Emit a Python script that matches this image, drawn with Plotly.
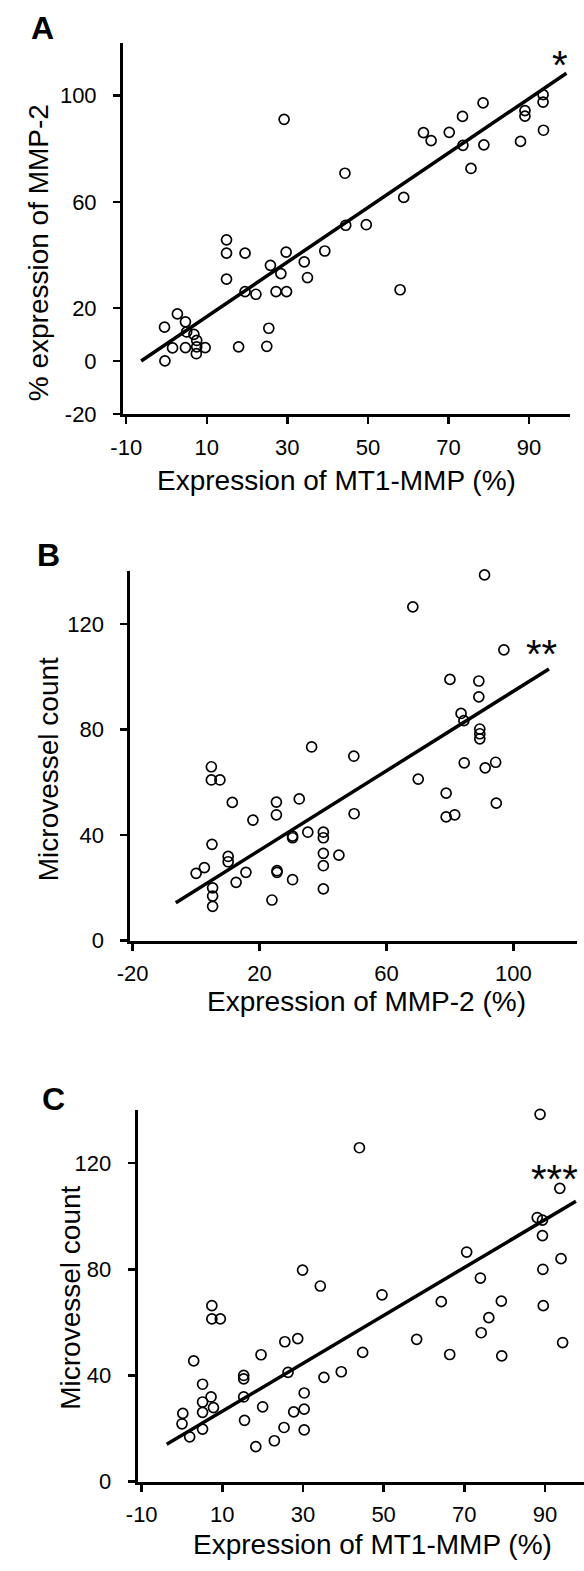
import numpy as np
import plotly.graph_objects as go

W, H = 584, 1571
FONT = "Liberation Sans, Arial, Helvetica, sans-serif"

# ---------------- Panel A: MT1-MMP vs MMP-2 ----------------
A_x = [29.2, 44.3, 44.5, 14.9, 14.9, 19.5, 29.7, 39.3, 34.2, 25.8, 28.4, 14.9, 35.0, 19.5, 22.2, 27.2,
       29.8, 2.7, 4.7, -0.5, 25.4, 5.0, 6.8, 7.5, 1.5, 4.7, 7.5, 9.6, 7.4, 17.9, 24.9, -0.4, 49.6, 58.9,
       58.0, 63.8, 65.7, 70.2, 73.5, 73.6, 75.6, 78.6, 78.8, 87.9, 89.0, 89.0, 93.5, 93.5, 93.6]
A_y = [91.1, 70.8, 51.2, 45.7, 40.7, 40.7, 41.1, 41.5, 37.4, 36.1, 33.0, 30.9, 31.5, 26.2, 25.2, 26.2,
       26.2, 17.8, 14.8, 12.8, 12.4, 11.0, 10.1, 7.8, 5.0, 5.1, 5.4, 5.1, 2.8, 5.4, 5.6, 0.1, 51.4, 61.7,
       26.9, 86.1, 83.1, 86.2, 92.2, 81.3, 72.6, 97.3, 81.5, 82.8, 94.4, 92.3, 100.4, 97.6, 87.0]
A_fit = [6.5, 1.027]          # intercept, slope
A_fit_span = [-6.3, 99.3]
A_xticks = [-10, 10, 30, 50, 70, 90]
A_yticks = [-20, 0, 20, 60, 100]

# ---------------- Panel B: MMP-2 vs microvessel count ----------------
B_x = [36.4, 4.8, 4.8, 7.5, 11.4, 32.5, 25.3, 25.3, 17.9, 35.2, 30.4, 30.4, 40.1, 40.1, 40.1, 40.1,
       40.1, 45.0, 5.0, 10.1, 10.1, 0.0, 2.6, 15.7, 25.5, 25.5, 12.6, 30.4, 5.2, 5.2, 5.2, 23.9, 90.9,
       68.3, 97.0, 80.0, 89.1, 89.1, 83.5, 84.4, 89.4, 89.4, 89.4, 49.7, 84.5, 91.1, 94.4, 70.0, 78.8,
       78.8, 81.5, 94.6, 49.8]
B_y = [73.4, 65.9, 60.9, 60.9, 52.4, 53.7, 52.5, 47.7, 45.7, 41.1, 39.6, 39.0, 41.1, 39.0, 33.1, 28.4,
       19.6, 32.4, 36.5, 31.9, 29.9, 25.5, 27.7, 25.9, 26.5, 25.9, 22.1, 23.1, 20.0, 16.9, 13.0, 15.4,
       138.6, 126.5, 110.2, 99.0, 98.4, 92.4, 86.1, 83.4, 80.2, 78.4, 76.5, 69.9, 67.4, 65.5, 67.6, 61.2,
       55.9, 46.9, 47.7, 52.1, 48.1]
B_fit = [19.2, 0.753]
B_fit_span = [-6.4, 111.2]
B_xticks = [-20, 20, 60, 100]
B_yticks = [0, 40, 80, 120]

# ---------------- Panel C: MT1-MMP vs microvessel count ----------------
C_x = [29.9, 34.3, 7.4, 7.4, 9.5, 25.5, 28.7, 19.6, 2.9, 15.3, 15.3, 26.3, 35.2, 39.5, 5.1, 7.2, 5.1,
       7.8, 5.1, 15.3, 30.3, 20.0, 30.3, 27.7, 0.2, 0.0, 15.5, 5.1, 25.3, 30.3, 1.9, 22.9, 18.3, 88.8,
       44.0, 93.7, 88.1, 89.4, 89.4, 94.0, 89.5, 89.6, 94.4, 70.6, 74.0, 79.2, 64.3, 76.1, 74.2, 49.6,
       58.2, 66.4, 79.3, 44.8]
C_y = [79.7, 73.7, 66.3, 61.3, 61.3, 52.7, 53.9, 47.8, 45.5, 40.0, 38.7, 41.2, 39.3, 41.4, 36.7, 31.9,
       30.0, 27.9, 26.1, 31.9, 33.4, 28.2, 27.3, 26.3, 25.7, 21.8, 23.1, 19.8, 20.4, 19.5, 16.9, 15.4,
       13.2, 138.4, 125.8, 110.5, 99.5, 98.5, 92.7, 84.0, 80.0, 66.3, 52.4, 86.5, 76.7, 68.0, 67.8, 61.8,
       56.1, 70.4, 53.6, 47.9, 47.4, 48.7]
C_fit = [17.5, 0.902]
C_fit_span = [-3.8, 97.7]
C_xticks = [-10, 10, 30, 50, 70, 90]
C_yticks = [0, 40, 80, 120]

panel_labels = ["A", "B", "C"]
x_titles = ["Expression of MT1-MMP (%)", "Expression of MMP-2 (%)", "Expression of MT1-MMP (%)"]
y_titles = ["% expression of MMP-2", "Microvessel count", "Microvessel count"]
stars = ["*", "**", "***"]

# layout geometry (pixels)
panels = [
    dict(x=A_x, y=A_y, fit=A_fit, span=A_fit_span, xt=A_xticks, yt=A_yticks,
         xr=[-10.8, 100.1], yr=[-20, 120], px=(111.7, 569.3), py=(43, 417.7),
         lab=(29, 28), ytp=(26, 255), xtp=(330, 485), star=(559, 57)),
    dict(x=B_x, y=B_y, fit=B_fit, span=B_fit_span, xt=B_xticks, yt=B_yticks,
         xr=[-20.7, 120], yr=[0, 140], px=(119.3, 576.7), py=(576, 948.5),
         lab=(35, 560), ytp=(35.5, 776), xtp=(361, 1010), star=(540, 650)),
    dict(x=C_x, y=C_y, fit=C_fit, span=C_fit_span, xt=C_xticks, yt=C_yticks,
         xr=[-11, 99.7], yr=[0, 140], px=(126.7, 584), py=(1119.3, 1494),
         lab=(40, 1108), ytp=(58, 1309), xtp=(367, 1557), star=(554, 1180)),
]

fig = go.Figure()
annotations = []
for i, p in enumerate(panels):
    sfx = "" if i == 0 else str(i + 1)
    xa, ya = "x" + sfx, "y" + sfx
    fig.add_trace(go.Scatter(
        x=p["x"], y=p["y"], mode="markers", xaxis=xa, yaxis=ya, showlegend=False,
        marker=dict(symbol="circle-open", size=10, color="black", line=dict(width=1.7, color="black")),
        cliponaxis=False))
    b0, b1 = p["fit"]
    fx = np.array(p["span"])
    fig.add_trace(go.Scatter(
        x=fx, y=b0 + b1 * fx, mode="lines", xaxis=xa, yaxis=ya, showlegend=False,
        line=dict(color="black", width=3.5)))
    axis_common = dict(showline=True, linecolor="black", linewidth=3, showgrid=False, zeroline=False,
                       ticks="outside", ticklen=7, tickwidth=2.5, tickcolor="black",
                       tickfont=dict(family=FONT, size=22, color="black"))
    fig.layout["xaxis" + sfx] = dict(
        axis_common, domain=[p["px"][0] / W, p["px"][1] / W], range=p["xr"], anchor=ya,
        tickmode="array", tickvals=p["xt"], ticktext=[str(v) for v in p["xt"]], ticklabelstandoff=4)
    fig.layout["yaxis" + sfx] = dict(
        axis_common, domain=[1 - p["py"][1] / H, 1 - p["py"][0] / H], range=p["yr"], anchor=xa,
        tickmode="array", tickvals=p["yt"], ticktext=[str(v) for v in p["yt"]], ticklabelstandoff=12)
    annotations.append(dict(text="<b>%s</b>" % panel_labels[i], x=p["lab"][0] / W, y=1 - p["lab"][1] / H,
                            xref="paper", yref="paper", showarrow=False, xanchor="center", yanchor="middle",
                            font=dict(family=FONT, size=32, color="black")))
    annotations.append(dict(text=y_titles[i], x=p["ytp"][0] / W, y=1 - p["ytp"][1] / H,
                            xref="paper", yref="paper", showarrow=False, textangle=-90,
                            xanchor="center", yanchor="middle",
                            font=dict(family=FONT, size=28, color="black")))
    annotations.append(dict(text=x_titles[i], x=p["xtp"][0] / W, y=1 - p["xtp"][1] / H,
                            xref="paper", yref="paper", showarrow=False,
                            xanchor="center", yanchor="middle",
                            font=dict(family=FONT, size=28, color="black")))
    annotations.append(dict(text=stars[i], x=p["star"][0] / W, y=1 - (p["star"][1] + 9) / H,
                            xref="paper", yref="paper", showarrow=False,
                            xanchor="center", yanchor="middle",
                            font=dict(family=FONT, size=40, color="black")))

fig.update_layout(width=W, height=H, margin=dict(l=0, r=0, t=0, b=0),
                  paper_bgcolor="white", plot_bgcolor="white", annotations=annotations,
                  font=dict(family=FONT, color="black"), hovermode=False)
fig.write_html("out.html", config={"displayModeBar": False, "staticPlot": True},
               post_script="document.body.style.margin='0px';document.body.style.padding='0px';"
                           "document.body.style.overflow='hidden';")
